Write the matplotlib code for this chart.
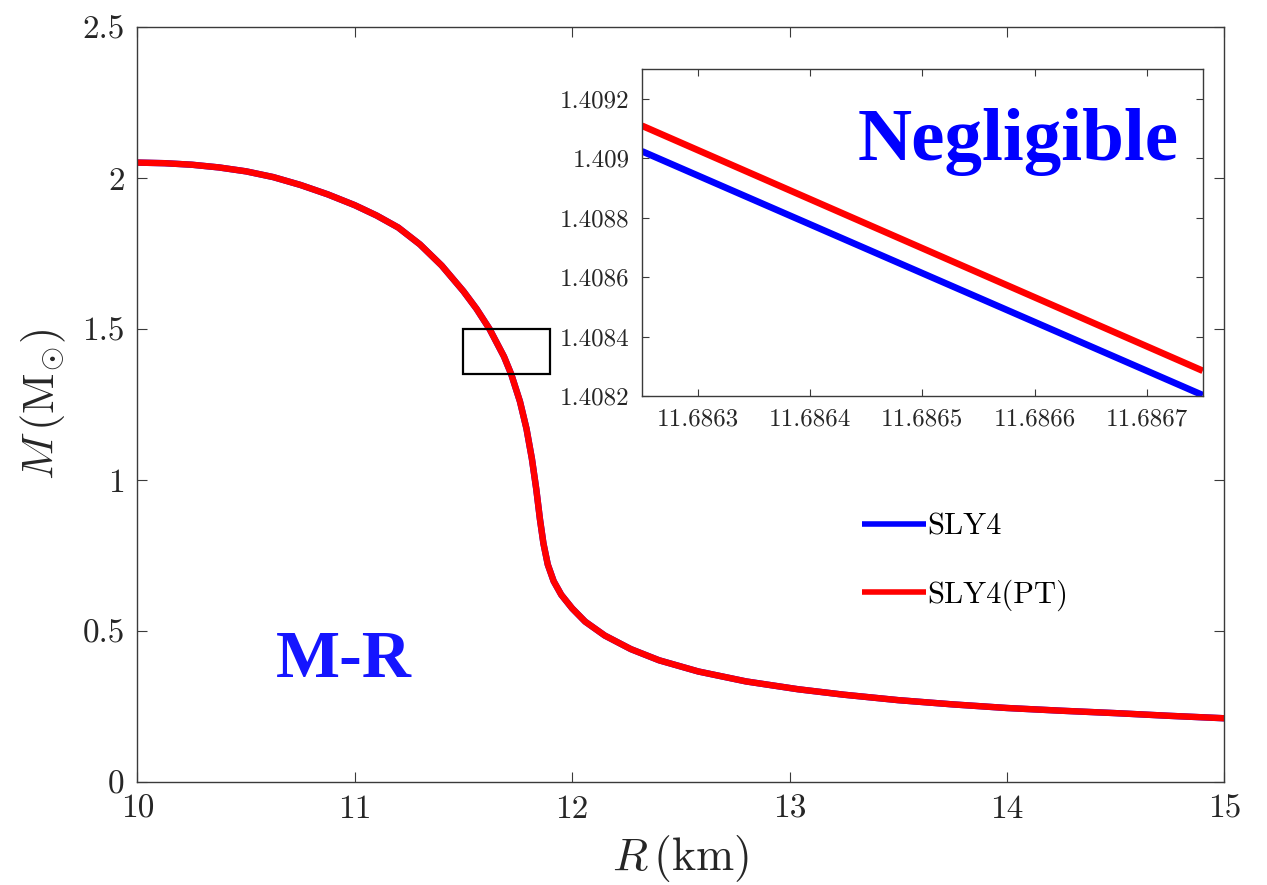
import matplotlib
matplotlib.use("Agg")
import matplotlib.pyplot as plt
from matplotlib.patches import Rectangle

plt.rcParams['font.family'] = 'serif'
plt.rcParams['font.serif'] = ['cmr10']
plt.rcParams['mathtext.fontset'] = 'cm'
plt.rcParams['axes.formatter.use_mathtext'] = True

# ---- data ----
R_main = [10.0, 10.125, 10.25, 10.375, 10.5, 10.625, 10.75, 10.875, 11.0, 11.1, 11.2,
          11.3, 11.4, 11.5, 11.56, 11.62, 11.6865, 11.72, 11.76, 11.79, 11.815, 11.835,
          11.852, 11.868, 11.888, 11.915, 11.95, 12.0, 12.06, 12.15, 12.27, 12.4, 12.58,
          12.8, 13.04, 13.25, 13.5, 13.75, 14.0, 14.25, 14.5, 14.75, 15.0]
M_sly4 = [2.051, 2.049, 2.044, 2.035, 2.022, 2.003, 1.977, 1.946, 1.910, 1.876, 1.836,
          1.780, 1.710, 1.625, 1.567, 1.50, 1.4087, 1.35, 1.26, 1.17, 1.07, 0.97,
          0.87, 0.79, 0.72, 0.665, 0.62, 0.575, 0.531, 0.485, 0.44, 0.403, 0.366,
          0.333, 0.307, 0.289, 0.271, 0.257, 0.245, 0.236, 0.228, 0.219, 0.211]
M_pt = [2.051, 2.049, 2.044, 2.035, 2.022, 2.003, 1.977, 1.946, 1.910, 1.876, 1.836,
        1.780, 1.710, 1.625, 1.567, 1.50, 1.4087, 1.35, 1.26, 1.17, 1.07, 0.97,
        0.87, 0.79, 0.72, 0.665, 0.62, 0.575, 0.531, 0.485, 0.44, 0.403, 0.366,
        0.333, 0.307, 0.289, 0.271, 0.257, 0.245, 0.236, 0.228, 0.219, 0.211]

R_inset = [11.68625, 11.68675]
M_sly4_inset = [1.409024, 1.408203]
M_pt_inset = [1.40911, 1.408285]

main_xticks = [10, 11, 12, 13, 14, 15]
main_xticklabels = ['10', '11', '12', '13', '14', '15']
main_yticks = [0, 0.5, 1, 1.5, 2, 2.5]
main_yticklabels = ['0', '0.5', '1', '1.5', '2', '2.5']
inset_xticks = [11.6863, 11.6864, 11.6865, 11.6866, 11.6867]
inset_xticklabels = ['11.6863', '11.6864', '11.6865', '11.6866', '11.6867']
inset_yticks = [1.4082, 1.4084, 1.4086, 1.4088, 1.4090, 1.4092]
inset_yticklabels = ['1.4082', '1.4084', '1.4086', '1.4088', '1.409', '1.4092']

zoom_box = (11.5, 1.35, 0.4, 0.15)  # x, y, width, height

labels = ['SLY4', 'SLY4(PT)']
colors = ['#0000ff', '#ff0000']

spine_col = '#3a3a3a'

fig = plt.figure(figsize=(12.67, 8.85), dpi=100)
ax = fig.add_axes([0.1084, 0.1164, 0.8579, 0.8531])

l1, = ax.plot(R_main, M_sly4, color=colors[0], lw=4.6, label=labels[0],
              solid_capstyle='butt', solid_joinstyle='round')
l2, = ax.plot(R_main, M_pt, color=colors[1], lw=4.6, label=labels[1],
              solid_capstyle='butt', solid_joinstyle='round')
ax.set_xlim(10, 15)
ax.set_ylim(0, 2.5)
ax.set_xticks(main_xticks)
ax.set_xticklabels(main_xticklabels)
ax.set_yticks(main_yticks)
ax.set_yticklabels(main_yticklabels)
ax.tick_params(direction='in', length=7, width=0.8, color=spine_col, labelsize=24,
               top=True, right=True, pad=9, labelcolor='#262626')
for s in ax.spines.values():
    s.set_color(spine_col)
    s.set_linewidth(1.0)
ax.set_xlabel(r'$R\,(\mathrm{km})$', fontsize=33, color='#262626', labelpad=7)
ax.set_ylabel(r'$M\,(\mathrm{M}_{\odot})$', fontsize=32, color='#262626', labelpad=10)

ax.add_patch(Rectangle((zoom_box[0], zoom_box[1]), zoom_box[2], zoom_box[3],
                       fill=False, edgecolor='black', lw=1.6, zorder=5))

ax.text(0.1276, 0.139, 'M-R', transform=ax.transAxes, fontsize=49,
        fontfamily='Liberation Serif', fontweight='bold', color='#1515ff',
        ha='left', va='baseline')

leg = ax.legend(handles=[l1, l2], loc='upper left', bbox_to_anchor=(0.641, 0.392),
                frameon=False, fontsize=22, handlelength=2.1, handletextpad=0.05,
                labelspacing=1.25)
for line in leg.get_lines():
    line.set_linewidth(4.0)

# inset
axi = fig.add_axes([0.5067, 0.5525, 0.4426, 0.3692])
axi.plot(R_inset, M_sly4_inset, color=colors[0], lw=4.8, solid_capstyle='butt')
axi.plot(R_inset, M_pt_inset, color=colors[1], lw=4.8, solid_capstyle='butt')
axi.set_xlim(11.68625, 11.68675)
axi.set_ylim(1.4082, 1.4093)
axi.set_xticks(inset_xticks)
axi.set_xticklabels(inset_xticklabels)
axi.set_yticks(inset_yticks)
axi.set_yticklabels(inset_yticklabels)
axi.tick_params(direction='in', length=5, width=0.8, color=spine_col, labelsize=18,
                top=True, right=True, pad=9, labelcolor='#262626')
for s in axi.spines.values():
    s.set_color(spine_col)
    s.set_linewidth(1.0)
axi.text(0.385, 0.722, 'Negligible', transform=axi.transAxes, fontsize=54,
         fontfamily='Liberation Serif', fontweight='bold', color='#0000ff',
         ha='left', va='baseline')

fig.savefig('out.png', dpi=100)
